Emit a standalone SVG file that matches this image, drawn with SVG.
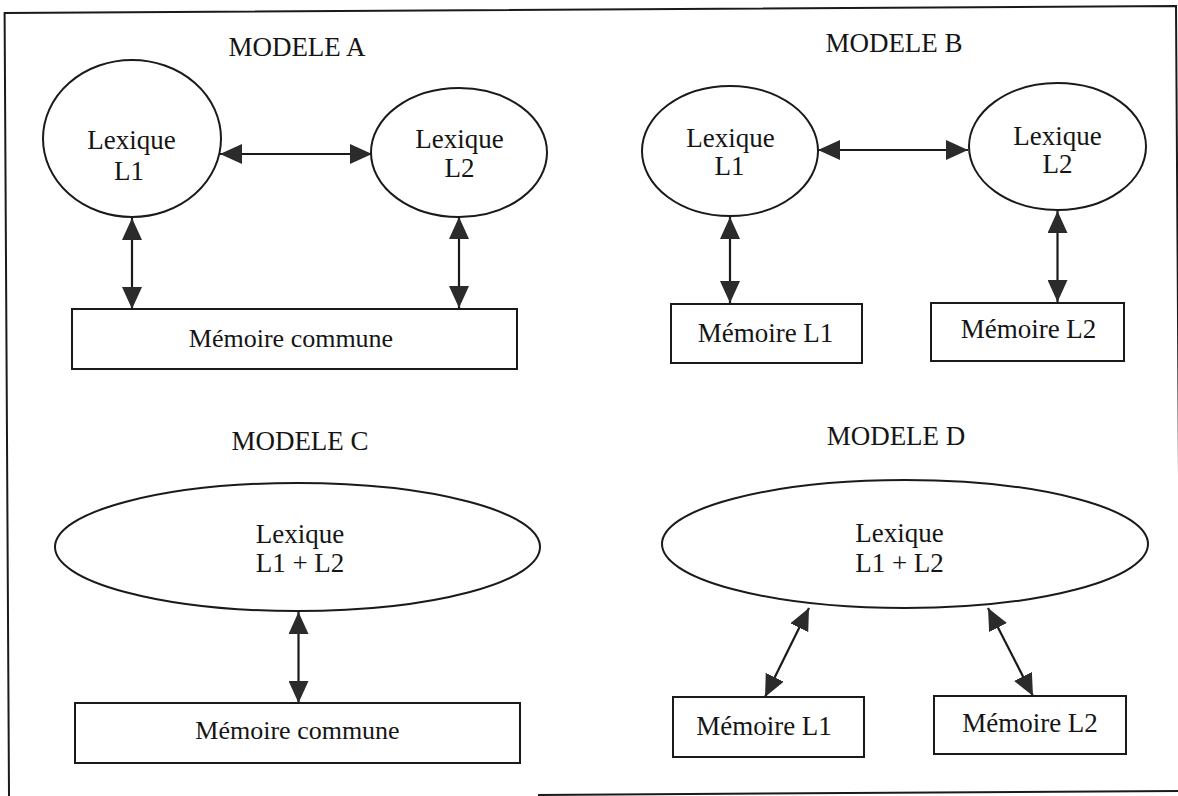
<svg xmlns="http://www.w3.org/2000/svg" width="1178" height="796" viewBox="0 0 1178 796">
<defs>
<style>
text{font-family:"Liberation Serif","Times New Roman",serif;font-size:27px;fill:#151515;text-anchor:middle}
.mc{font-size:26px}
.shape{fill:#fff;stroke:#1a1a1a;stroke-width:2}
.link{stroke:#1a1a1a;stroke-width:2.2;fill:none;marker-start:url(#ah);marker-end:url(#ah)}
.frame{fill:none;stroke:#1a1a1a;stroke-width:2}
</style>
<marker id="ah" markerUnits="userSpaceOnUse" viewBox="0 0 22 20" refX="22" refY="10" markerWidth="22" markerHeight="20" orient="auto-start-reverse">
<path d="M0,0 L22,10 L0,20 z" fill="#2b2b2b"/>
</marker>
</defs>
<rect width="1178" height="796" fill="#fff"/>
<g id="frame">
<path class="frame" d="M9,796 L4.6,13 L1176,6 L1181,791"/>
<path class="frame" d="M538,795 L1181,791"/>
</g>
<g id="titles">
<text x="297" y="56">MODELE A</text>
<text x="894" y="52">MODELE B</text>
<text x="300" y="450">MODELE C</text>
<text x="896" y="445">MODELE D</text>
</g>
<g id="connectors">
<line class="link" x1="220" y1="154" x2="372" y2="154"/>
<line class="link" x1="132" y1="218" x2="132" y2="309"/>
<line class="link" x1="459" y1="217" x2="459" y2="308"/>
<line class="link" x1="818" y1="150" x2="968" y2="150"/>
<line class="link" x1="730" y1="217" x2="730" y2="303"/>
<line class="link" x1="1057.5" y1="211" x2="1057.5" y2="302"/>
<line class="link" x1="298.5" y1="612" x2="298.5" y2="703"/>
<line class="link" x1="809" y1="608" x2="765" y2="697"/>
<line class="link" x1="988" y1="608" x2="1033" y2="696"/>
</g>
<g id="A-lex1"><ellipse class="shape" cx="132" cy="138.5" rx="89" ry="78.5"/><text x="131.5" y="149">Lexique</text><text x="129" y="180">L1</text></g>
<g id="A-lex2"><ellipse class="shape" cx="459" cy="152.5" rx="88" ry="64.5"/><text x="459.5" y="148">Lexique</text><text x="459.5" y="177">L2</text></g>
<g id="A-mem"><rect class="shape" x="72" y="309" width="445" height="60"/><text class="mc" x="291" y="347">Mémoire commune</text></g>
<g id="B-lex1"><ellipse class="shape" cx="730" cy="151" rx="88" ry="65"/><text x="730.5" y="147">Lexique</text><text x="729.5" y="175">L1</text></g>
<g id="B-lex2"><ellipse class="shape" cx="1057.5" cy="146.5" rx="88.5" ry="63.5"/><text x="1057.5" y="145">Lexique</text><text x="1057.5" y="173">L2</text></g>
<g id="B-mem1"><rect class="shape" x="671" y="304" width="191" height="59"/><text x="765.5" y="342">Mémoire L1</text></g>
<g id="B-mem2"><rect class="shape" x="931" y="303" width="193" height="58"/><text x="1028.5" y="338">Mémoire L2</text></g>
<g id="C-lex"><ellipse class="shape" cx="297.5" cy="547" rx="242.5" ry="64"/><text x="300" y="543">Lexique</text><text x="300" y="572">L1 + L2</text></g>
<g id="C-mem"><rect class="shape" x="75" y="703" width="445" height="60"/><text class="mc" x="297.5" y="739">Mémoire commune</text></g>
<g id="D-lex"><ellipse class="shape" cx="905" cy="544" rx="243" ry="64"/><text x="899.5" y="542">Lexique</text><text x="899.5" y="572">L1 + L2</text></g>
<g id="D-mem1"><rect class="shape" x="673" y="697" width="191" height="60"/><text x="764" y="735">Mémoire L1</text></g>
<g id="D-mem2"><rect class="shape" x="934" y="696" width="192" height="58"/><text x="1030" y="732">Mémoire L2</text></g>
</svg>
